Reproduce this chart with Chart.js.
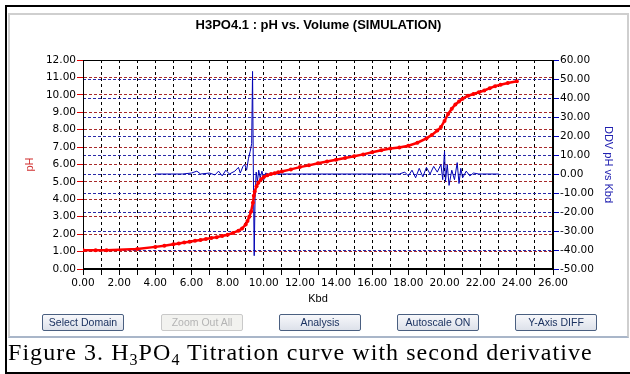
<!DOCTYPE html>
<html>
<head>
<meta charset="utf-8">
<script src="https://cdn.jsdelivr.net/npm/chart.js@4/dist/chart.umd.min.js"></script>
<style>
  body { margin: 0; background: #fff; }
  #outer { position: absolute; left: 5px; top: 5px; width: 640px; height: 365px;
           border-left: 2px solid #000; border-top: 2px solid #000; border-bottom: 2px solid #000; }
  #panel { position: absolute; left: 8px; top: 13px; width: 617px; height: 321px;
           border: 2px solid #cfcfcf; border-bottom-color: #a9b6c9; background: #fff; }
  #chart { position: absolute; left: 0; top: 0; }
  #title { position: absolute; left: 0; top: 17px; width: 637px; text-align: center;
           font: bold 13px "Liberation Sans", Arial, sans-serif; color: #000; }
  .btn { position: absolute; top: 314px; width: 80px; height: 15px; box-sizing: content-box;
         border: 1px solid #4a5f80; border-radius: 2px; text-align: center;
         font: 10.5px "Liberation Sans", Arial, sans-serif; line-height: 15px; color: #1b3260;
         background: linear-gradient(#f7f8fb, #dde1ea); }
  .btn.off { color: #b4b4b4; border-color: #c9c9c9; background: #f2f2ef; }
  #caption { position: absolute; left: 8px; top: 339px; white-space: nowrap;
             font: 24px "Liberation Serif", "Times New Roman", serif; letter-spacing: 1.05px; color: #000; }
  #caption sub { font-size: 16px; vertical-align: -5px; line-height: 0; }
</style>
</head>
<body>
<div id="outer"></div>
<div id="panel"></div>
<canvas id="chart" width="630" height="340"></canvas>
<div id="title">H3PO4.1 : pH vs. Volume (SIMULATION)</div>
<div class="btn" style="left:42px">Select Domain</div>
<div class="btn off" style="left:161px">Zoom Out All</div>
<div class="btn" style="left:279px">Analysis</div>
<div class="btn" style="left:397px">Autoscale ON</div>
<div class="btn" style="left:515px">Y-Axis DIFF</div>
<div id="caption">Figure 3. H<sub>3</sub>PO<sub>4</sub> Titration curve with second derivative</div>
<script>
// titration curve (pH vs Kbd)
var kbd = [0, 0.7, 1.3, 3.0, 4.0, 4.5, 5.0, 5.3, 5.6, 5.9, 6.2, 6.5, 6.8, 7.1, 7.4, 7.7, 8.0, 8.3, 8.6, 8.8,
           9.0, 9.1, 9.2, 9.3, 9.4, 9.45, 9.5, 9.6, 9.7, 9.85, 10.0, 10.2, 10.4, 10.6, 10.8, 11.0, 11.5,
           12.0, 12.5, 13.0, 13.5, 14.0, 14.5, 15.0, 15.5, 16.0, 16.5, 17.0, 17.5, 18.0, 18.5, 19.0, 19.3,
           19.6, 19.8, 20.0, 20.2, 20.4, 20.6, 20.8, 21.0, 21.3, 21.6, 21.9, 22.2, 22.5, 22.8, 23.1, 23.5, 24.0];
var ph = [1.07, 1.08, 1.08, 1.15, 1.27, 1.33, 1.42, 1.47, 1.52, 1.57, 1.62, 1.67, 1.72, 1.78, 1.83, 1.90, 1.97, 2.07, 2.20, 2.32,
          2.55, 2.75, 3.00, 3.30, 3.80, 4.20, 4.45, 4.75, 4.95, 5.15, 5.28, 5.38, 5.45, 5.50, 5.55, 5.60, 5.72,
          5.85, 5.95, 6.07, 6.17, 6.27, 6.37, 6.47, 6.58, 6.70, 6.82, 6.92, 6.98, 7.08, 7.25, 7.50, 7.70,
          7.95, 8.15, 8.50, 8.90, 9.20, 9.45, 9.62, 9.78, 9.95, 10.05, 10.15, 10.25, 10.38, 10.50, 10.58, 10.68, 10.78];

// second derivative (DDV pH vs Kbd)
var kbd2 = [4.0, 5.5, 6.0, 6.3, 6.5, 7.0, 7.3, 7.5, 7.7, 7.9, 8.1, 8.4, 8.6, 8.7, 8.85, 8.95, 9.05, 9.15, 9.25, 9.33,
            9.38, 9.42, 9.47, 9.52, 9.58, 9.65, 9.72, 9.8, 9.9, 10.0, 10.1, 10.25, 11.0, 17.5, 17.8, 18.0, 18.2,
            18.4, 18.6, 18.8, 19.0, 19.2, 19.4, 19.6, 19.8, 19.9, 20.0, 20.05, 20.15, 20.25, 20.4, 20.55, 20.7,
            20.8, 20.9, 21.0, 21.2, 21.4, 21.6, 21.9, 23.0];
var ddv = [0, 0, 0.5, 1.5, 0, 0.5, -0.5, 1.5, -1, 2, 0, 1.5, 3.5, 0.5, 4, 5, 2, 8, 12, 16,
           54, 5, -43, -12, 1, -4, 2, -2, 1.5, -3, 0.5, 0, 0, 0, 1, -1, 2,
           -2, 3, -1.5, 3.5, 0, 4, 1, 5, -3, 12, -4, 5, -6, 2, -3, 6,
           -5, 3, -2, 1.5, -1, 0.5, 0, 0];

var leftTicks = [0, 12, 1];
var rightTicks = [-50, 60, 10];
var xTicks = [0, 26, 1];

function pts(xs, ys) {
  return xs.map(function (x, i) { return {x: x, y: ys[i]}; });
}

var tickFont = {family: 'DejaVu Sans', size: 10.5};

var framePlugin = {
  id: 'frame',
  beforeDatasetsDraw: function (chart) {
    var a = chart.chartArea, ctx = chart.ctx;
    ctx.save();
    ctx.strokeStyle = '#000';
    ctx.lineWidth = 1;
    ctx.strokeRect(a.left + 0.5, a.top + 0.5, a.right - a.left - 1, a.bottom - a.top - 1);
    ctx.restore();
  }
};

new Chart('chart', {
  type: 'line',
  data: {
    datasets: [
      {
        data: pts(kbd, ph),
        yAxisID: 'y',
        borderColor: '#ff0000',
        backgroundColor: '#ff0000',
        borderWidth: 2.5,
        pointRadius: 2,
        pointBorderWidth: 0,
        fill: false,
        tension: 0
      },
      {
        data: pts(kbd2, ddv),
        yAxisID: 'y2',
        borderColor: '#0000b4',
        borderWidth: 1,
        pointRadius: 0,
        fill: false,
        tension: 0
      }
    ]
  },
  options: {
    responsive: false,
    animation: false,
    layout: {padding: {left: 10, right: 10, top: 60, bottom: 31}},
    plugins: {legend: {display: false}, tooltip: {enabled: false}},
    scales: {
      x: {
        type: 'linear',
        min: xTicks[0], max: xTicks[1],
        afterFit: function (s) { s.height = 40; },
        ticks: {
          stepSize: xTicks[2], autoSkip: false, maxRotation: 0, padding: 2, color: '#000', font: tickFont,
          callback: function (v) { return v % 2 === 0 ? v.toFixed(2) : ''; }
        },
        grid: {color: '#000', tickColor: '#000', tickLength: 6, lineWidth: 1},
        border: {color: '#000', dash: [3, 3]},
        title: {display: true, text: 'Kbd', color: '#000', font: {family: 'Liberation Sans', size: 11},
                padding: {top: 0, bottom: 3}}
      },
      y: {
        position: 'left',
        min: leftTicks[0], max: leftTicks[1],
        afterFit: function (s) { s.width = 73; },
        ticks: {stepSize: leftTicks[2], padding: 1, color: '#000', font: tickFont,
                callback: function (v) { return v.toFixed(2); }},
        grid: {color: '#a82a2a', tickColor: '#e00000', tickLength: 6, lineWidth: 1},
        border: {color: '#000', dash: [3, 2]},
        title: {display: true, text: 'pH', color: '#d03030', font: {family: 'Liberation Sans', size: 11},
                padding: {top: 13, bottom: 0}}
      },
      y2: {
        position: 'right',
        min: rightTicks[0], max: rightTicks[1],
        afterFit: function (s) { s.width = 67; },
        ticks: {stepSize: rightTicks[2], padding: 1, color: '#000', font: tickFont,
                callback: function (v) { return v.toFixed(2); }},
        grid: {color: '#2a2aa8', tickColor: '#0000c0', tickLength: 6, lineWidth: 1},
        border: {color: '#000', dash: [3, 2]},
        title: {display: true, text: 'DDV pH vs Kbd', color: '#2020b0', font: {family: 'Liberation Sans', size: 11},
                padding: {top: 5, bottom: 0}}
      }
    }
  },
  plugins: [framePlugin]
});
</script>
</body>
</html>
